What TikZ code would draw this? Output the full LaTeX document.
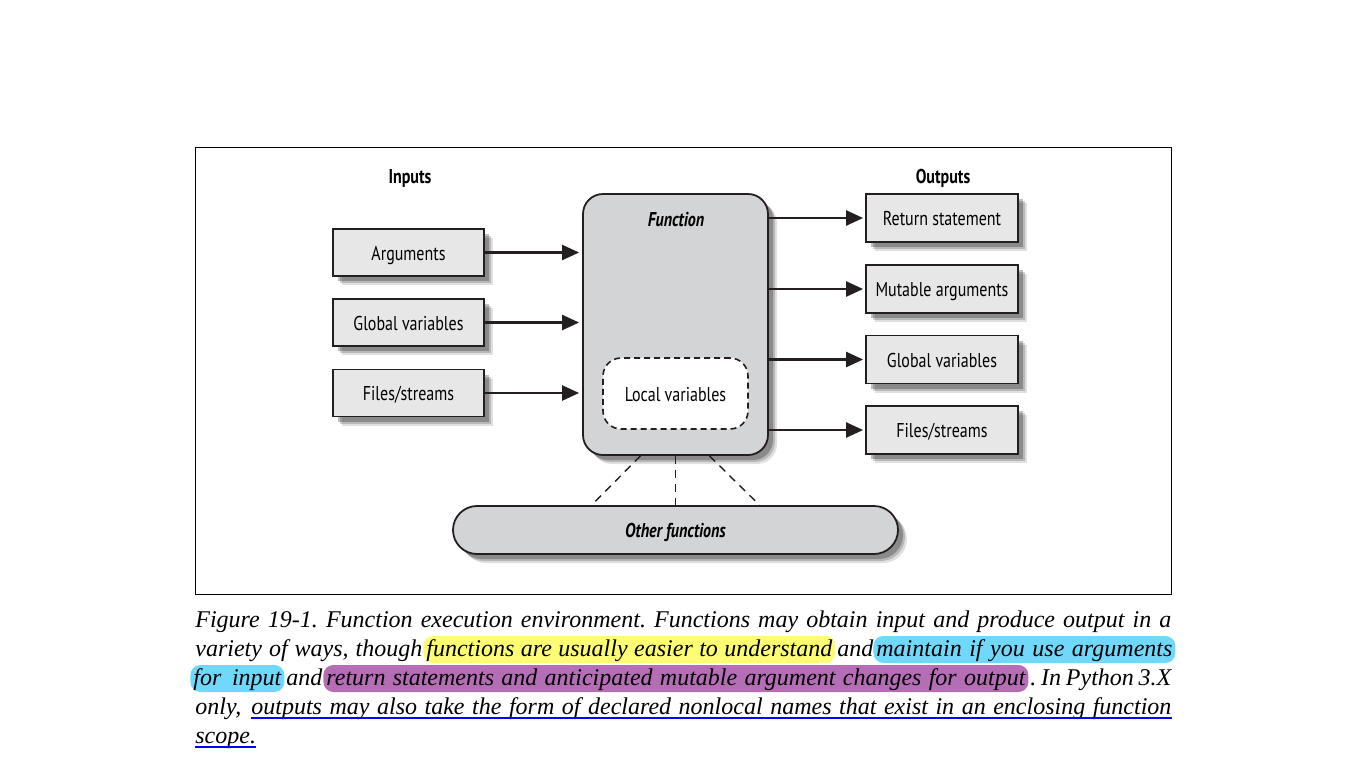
\documentclass[tikz,border=0pt]{standalone}
\usepackage{fontspec}
\setmainfont{Liberation Serif}
\newfontfamily\diagfont{PT Sans}[FakeStretch=0.8]
\usetikzlibrary{arrows.meta, shadows}
\definecolor{boxfill}{HTML}{E7E7E8}
\definecolor{fnfill}{HTML}{D3D4D6}
\definecolor{edge}{HTML}{231F20}
\definecolor{hlyellow}{HTML}{FDFD74}
\definecolor{hlcyan}{HTML}{6FD8FB}
\definecolor{hlpurple}{HTML}{B56EB5}
\definecolor{ulblue}{HTML}{0000FF}
\tikzset{
  soft shadow/.style={
    general shadow={shadow xshift=4.5pt, shadow yshift=-4.5pt, fill=black, opacity=0.12},
    general shadow={shadow xshift=3.5pt, shadow yshift=-3.5pt, fill=black, opacity=0.18},
    general shadow={shadow xshift=2.5pt, shadow yshift=-2.5pt, fill=black, opacity=0.25}},
  diag/.style={font=\diagfont\fontsize{10}{12}\selectfont, text height=7.5pt, text depth=0pt},
  head/.style={font=\diagfont\bfseries\fontsize{10}{12}\selectfont},
  iobox/.style={diag, soft shadow, draw=edge, line width=0.9pt, fill=boxfill,
    minimum width=75.5pt, minimum height=23.5pt, inner sep=0pt},
  fnbox/.style={soft shadow, draw=edge, line width=0.9pt, fill=fnfill,
    rounded corners=10pt, inner sep=0pt},
  localbox/.style={diag, draw=edge, line width=0.8pt, fill=white, dash pattern=on 3pt off 2pt,
    rounded corners=9pt, minimum width=72.5pt, minimum height=35.5pt, inner sep=0pt},
  flow/.style={-{Triangle[length=8.5pt, width=7.5pt]}, line width=1.2pt, draw=edge},
  link/.style={dash pattern=on 4pt off 3pt, line width=0.7pt, draw=edge},
  captext/.style={inner sep=0pt, anchor=base west, font=\fontsize{12}{14}\selectfont\itshape\frenchspacing},
  hl/.style={captext, inner xsep=1.5pt, inner ysep=1pt, text height=9pt, text depth=2.5pt,
    rounded corners=5pt},
  uline/.style={draw=ulblue, line width=1pt}
}

\begin{document}
\begin{tikzpicture}[x=0.5pt, y=-0.5pt]
\useasboundingbox (0,0) rectangle (1366,768);
\draw[line width=0.5pt] (195,147) rectangle (1171,594);

% headings
\node[head] (inhead) at (410,178) {Inputs};
\node[head] (outhead) at (943,178) {Outputs};

% function and its locals
\node[fnbox, minimum width=92.5pt, minimum height=130.5pt] (fn) at (675.5,324.5) {};
\node[head, font=\diagfont\bfseries\itshape\fontsize{10}{12}\selectfont] (fnlabel) at (676,220) {Function};
\node[localbox] (local) at (675.5,393.5) {Local variables};

% inputs
\node[iobox] (arg) at (408.5,252.5) {Arguments};
\node[iobox] (glob) at (408.5,322.5) {Global variables};
\node[iobox] (files) at (408.5,393) {Files/streams};

% outputs
\node[iobox, minimum width=76pt, minimum height=24pt] (ret) at (942,218) {Return statement};
\node[iobox, minimum width=76pt, minimum height=24pt] (mut) at (942,289) {Mutable arguments};
\node[iobox, minimum width=76pt, minimum height=24pt] (oglob) at (942,359.5) {Global variables};
\node[iobox, minimum width=76pt, minimum height=24pt] (ofiles) at (942,430) {Files/streams};

% other functions
\node[fnbox, diag, rounded corners=12pt, minimum width=222.5pt, minimum height=24pt,
  font=\diagfont\bfseries\itshape\fontsize{10}{12}\selectfont] (other) at (675.5,530) {Other functions};

\foreach \src in {arg, glob, files}
  \draw[flow, shorten >=1.5pt] (\src.east) -- (\src.east -| fn.west);
\foreach \dst in {ret, mut, oglob, ofiles}
  \draw[flow, shorten >=1pt] (fn.east |- \dst.west) -- (\dst.west);

\draw[link] ([xshift=-17.5pt]fn.south) -- ([xshift=-42pt]other.north);
\draw[link] (fn.south) -- (other.north);
\draw[link] ([xshift=17pt]fn.south) -- ([xshift=42pt]other.north);

% caption
\node[captext] (cap1) at (195,627) {\makebox[488pt][s]{Figure 19-1. Function execution environment. Functions may obtain input and produce output in a}};
\node[captext] (cap2a) at (195,656) {\makebox[113.5pt][s]{variety of ways, though}};
\node[hl, fill=hlyellow] (cap2b) at (423,656) {\makebox[203pt][s]{functions are usually easier to understand}};
\node[captext] (cap2c) at (837,656) {and};
\node[hl, fill=hlcyan] (cap2d) at (873,656) {\makebox[148pt][s]{maintain if you use arguments}};
\node[hl, fill=hlcyan] (cap3a) at (190,685) {\makebox[44pt][s]{for input}};
\node[captext] (cap3b) at (286,685) {and};
\node[hl, fill=hlpurple] (cap3c) at (323,685) {\makebox[349.5pt][s]{return statements and anticipated mutable argument changes for output}};
\node[captext] (cap3d) at (1030,685) {\makebox[70.5pt][s]{. In Python 3.X}};
\node[captext] (cap4a) at (195,714) {only,};
\node[captext] (cap4b) at (251,714) {\makebox[460pt][s]{outputs may also take the form of declared nonlocal names that exist in an enclosing function}};
\node[captext] (cap5) at (195,743) {scope.};
\draw[uline] ([yshift=-2pt]cap4b.base west) -- ([yshift=-2pt]cap4b.base east);
\draw[uline] ([yshift=-2pt]cap5.base west) -- ([yshift=-2pt]cap5.base east);
\end{tikzpicture}
\end{document}
